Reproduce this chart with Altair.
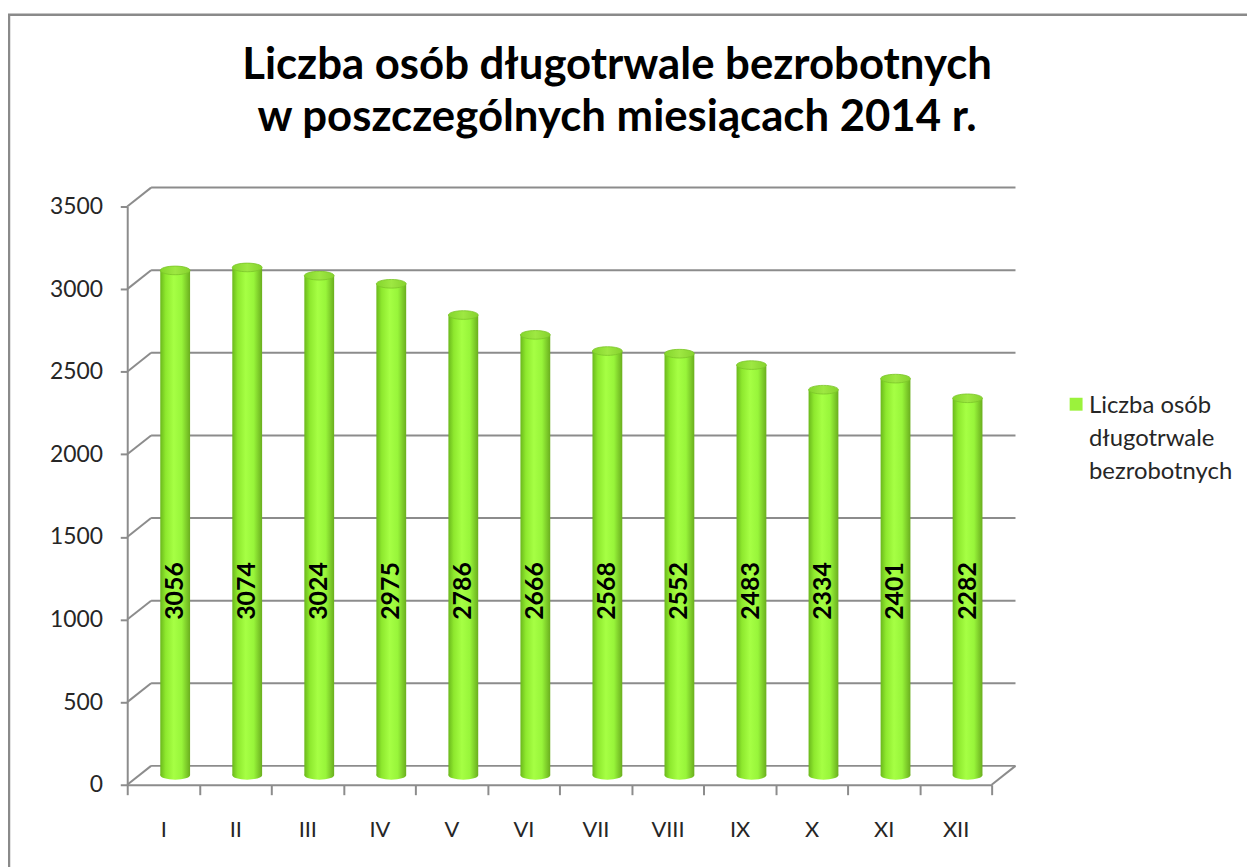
import altair as alt
import pandas as pd

# ---- data ----
months = ["I", "II", "III", "IV", "V", "VI", "VII", "VIII", "IX", "X", "XI", "XII"]
values = [3056, 3074, 3024, 2975, 2786, 2666, 2568, 2552, 2483, 2334, 2401, 2282]
grid_values = [0, 500, 1000, 1500, 2000, 2500, 3000, 3500]
series_name = "Liczba osób długotrwale bezrobotnych"
legend_lines = ["Liczba osób", "długotrwale", "bezrobotnych"]
title_lines = ["Liczba osób długotrwale bezrobotnych", "w poszczególnych miesiącach 2014 r."]

# ---- style ----
W, H = 870, 582
DX, DY = 24, -19          # depth of the 3D box
HX, HY = 12, -9.5         # cylinders sit at mid depth
GRID = "#8c8c8c"
FONT = "Lato"
ELLIPSE = "M-1,0 A1,0.29 0 1,0 1,0 A1,0.29 0 1,0 -1,0 Z"

bar_grad = alt.Gradient(
    gradient="linear", x1=0, x2=1, y1=0, y2=0,
    stops=[
        alt.GradientStop(color="#6bb81c", offset=0),
        alt.GradientStop(color="#8ee82e", offset=0.18),
        alt.GradientStop(color="#a6ff44", offset=0.45),
        alt.GradientStop(color="#98f53a", offset=0.72),
        alt.GradientStop(color="#6aae1e", offset=1),
    ],
)
cap_grad = alt.Gradient(
    gradient="linear", x1=0, x2=1, y1=0, y2=0,
    stops=[
        alt.GradientStop(color="#84d52c", offset=0),
        alt.GradientStop(color="#9ee842", offset=0.5),
        alt.GradientStop(color="#86d22e", offset=1),
    ],
)

df = pd.DataFrame({"month": months, "value": values, "series": series_name})
grid_df = pd.DataFrame({"v": grid_values})
legend_df = pd.DataFrame({"label": ["\n".join(legend_lines)]})
one = alt.Data(values=[{"k": 0}])

xscale = alt.Scale(domain=months, paddingInner=0, paddingOuter=0)
yscale = alt.Scale(domain=[grid_values[0], grid_values[-1]], nice=False)

xaxis = alt.Axis(title=None, labelAngle=0, tickBand="extent", tickSize=10,
                 labelPadding=25, labelFont=FONT, labelFontSize=22,
                 labelColor="#262626", domainColor=GRID, domainWidth=2,
                 tickColor=GRID, tickWidth=2, grid=False)
yaxis = alt.Axis(title=None, values=grid_values, format="d", grid=False, tickSize=7,
                 labelPadding=18, labelFont=FONT, labelFontSize=23,
                 labelColor="#262626", domainColor=GRID, domainWidth=2,
                 tickColor=GRID, tickWidth=2)

X = alt.X("month:N", scale=xscale, sort=months, axis=xaxis)

def Y(field):
    return alt.Y(field, scale=yscale, axis=yaxis)

# outer frame
frame = alt.Chart(one).mark_rect(fillOpacity=0, stroke="#8a8a8a", strokeWidth=2.5).encode(
    x=alt.value(-119), x2=alt.value(W + 300), y=alt.value(-193), y2=alt.value(H + 200)
)

# back wall grid lines
back_grid = alt.Chart(grid_df).mark_rule(color=GRID, strokeWidth=2, yOffset=DY, y2Offset=DY).encode(
    x=alt.value(DX), x2=alt.value(W + DX), y=Y("v:Q"), y2=alt.Y2("v"),
)
# side wall connectors
side = alt.Chart(grid_df).mark_rule(color=GRID, strokeWidth=2, y2Offset=DY).encode(
    x=alt.value(0), x2=alt.value(DX), y=Y("v:Q"), y2=alt.Y2("v"),
)
# floor right edge
floor_edge = alt.Chart(grid_df).transform_aggregate(lo="min(v)").mark_rule(
    color=GRID, strokeWidth=2, y2Offset=DY
).encode(x=alt.value(W), x2=alt.value(W + DX), y=Y("lo:Q"), y2=alt.Y2("lo:Q"))

bottom_caps = alt.Chart(df).mark_point(
    shape=ELLIPSE, size=900, filled=True, fill=bar_grad, opacity=1, strokeWidth=0,
    xOffset=HX, yOffset=HY
).encode(x=X, y=alt.datum(0))

bars = alt.Chart(df).mark_bar(size=30, fill=bar_grad, xOffset=HX, yOffset=HY, y2Offset=HY).encode(
    x=X, y=Y("value:Q")
)

top_caps = alt.Chart(df).mark_point(
    shape=ELLIPSE, size=900, filled=True, fill=cap_grad, opacity=1,
    stroke="#7cc52a", strokeWidth=0.8, xOffset=HX, yOffset=HY
).encode(x=X, y=Y("value:Q"))

labels = alt.Chart(df).mark_text(
    angle=270, font=FONT, fontWeight="bold", fontSize=25, color="#000000",
    align="center", baseline="middle", xOffset=HX
).encode(x=X, y=alt.value(387), text=alt.Text("value:Q", format="d"))

legend_sq = alt.Chart(one).mark_square(size=169, color="#9bf23c", opacity=1).encode(
    x=alt.value(955), y=alt.value(199)
)
legend_txt = alt.Chart(legend_df).mark_text(
    align="left", baseline="alphabetic", lineBreak="\n", lineHeight=33,
    font=FONT, fontSize=24, color="#262626"
).encode(x=alt.value(968), y=alt.value(208), text="label:N")

chart = alt.layer(
    frame, back_grid, side, floor_edge,
    bottom_caps, bars, top_caps, labels, legend_sq, legend_txt
).properties(
    width=W, height=H,
    title=alt.Title(title_lines, font=FONT, fontSize=44, fontWeight="bold", color="#000000",
                    anchor="middle", frame="group", dx=58, offset=-127, lineHeight=52),
    autosize=alt.AutoSizeParams(type="none"),
    padding={"left": 120, "top": 197, "right": 257, "bottom": 80},
    background="white",
).configure_view(stroke="transparent", strokeWidth=0)

chart.save("out.html", embed_options={"renderer": "svg", "actions": False})
